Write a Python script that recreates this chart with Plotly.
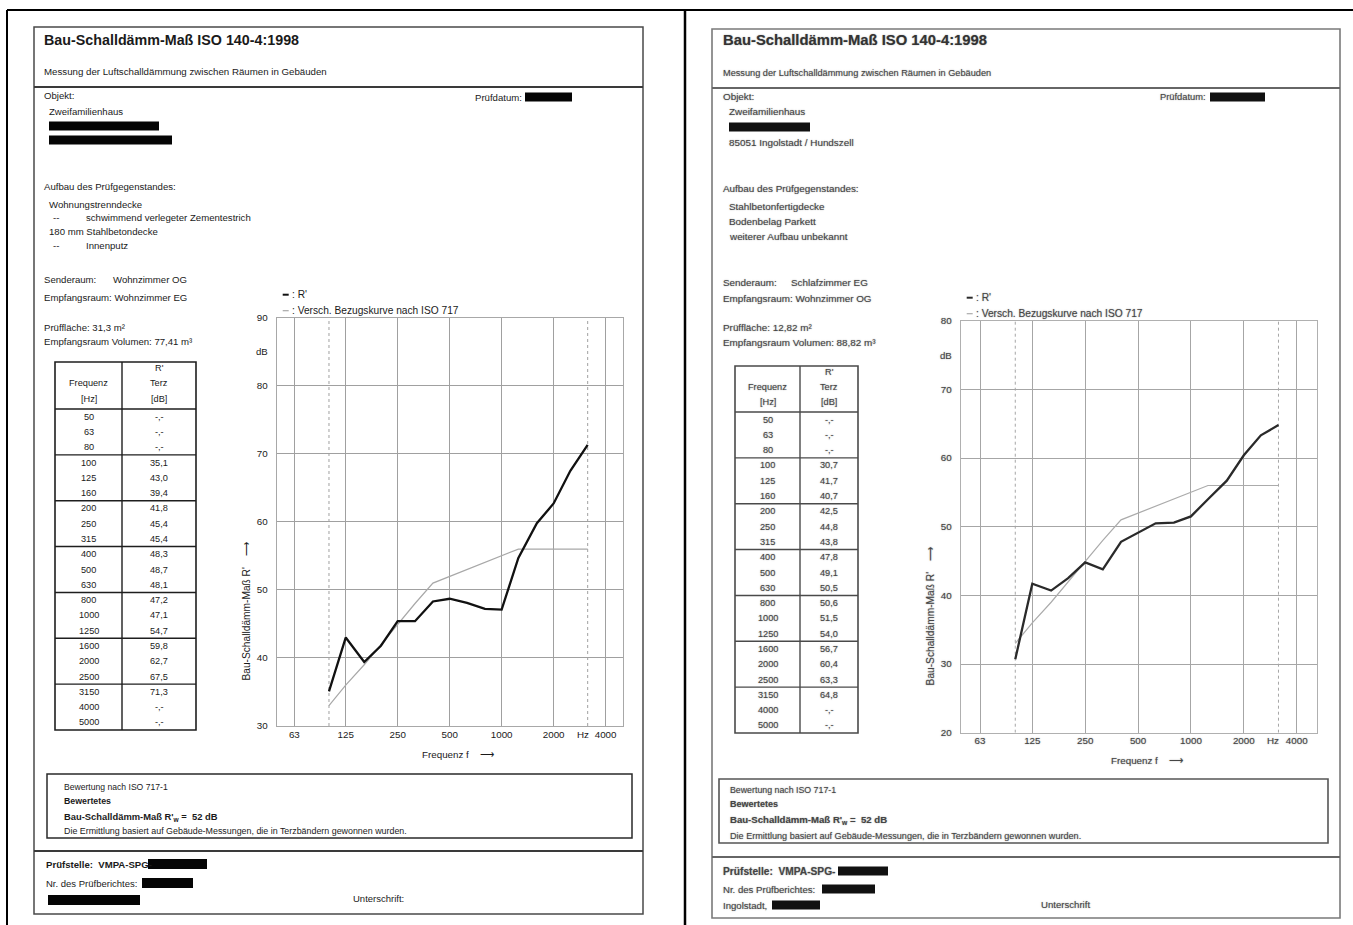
import math
import plotly.graph_objects as go

W, H = 1353, 925
FONT = "Liberation Sans, Arial, Helvetica, sans-serif"

# Third-octave bands listed in the result tables
FREQ_BANDS = [50, 63, 80, 100, 125, 160, 200, 250, 315, 400, 500, 630,
              800, 1000, 1250, 1600, 2000, 2500, 3150, 4000, 5000]

# Apparent sound reduction index R' per band (dB), None = not measured
R_WOHNZIMMER = [None, None, None, 35.1, 43.0, 39.4, 41.8, 45.4, 45.4, 48.3, 48.7,
                48.1, 47.2, 47.1, 54.7, 59.8, 62.7, 67.5, 71.3, None, None]
R_SCHLAFZIMMER = [None, None, None, 30.7, 41.7, 40.7, 42.5, 44.8, 43.8, 47.8, 49.1,
                  50.5, 50.6, 51.5, 54.0, 56.7, 60.4, 63.3, 64.8, None, None]

# Shifted ISO 717-1 reference curve (100 Hz ... 3150 Hz)
REF_FREQ = [100, 125, 160, 200, 250, 315, 400, 500, 630, 800,
            1000, 1250, 1600, 2000, 2500, 3150]
REF_SHIFTED = [33, 36, 39, 42, 45, 48, 51, 52, 53, 54, 55, 56, 56, 56, 56, 56]

RW_LEFT = 52
RW_RIGHT = 52

GRID_FREQ = [63, 125, 250, 500, 1000, 2000, 4000]
RANGE_MARK_FREQ = [100, 3150]

INK = "#1a1a1a"
SCAN = "#454545"
BLUR = "0px 0px 1.3px rgba(70,70,70,0.6)"

annotations = []
shapes = []


def px(x):
    return x / W


def py(y):
    return 1 - y / H


def label(x, y, s, size=9.6, bold=False, color=INK, anchor="left",
          blur=None, angle=0, xref="paper", yref="paper"):
    font = dict(family=FONT, size=size, color=color)
    if blur:
        font["shadow"] = blur
    if bold:
        s = f"<b>{s}</b>"
    annotations.append(dict(
        x=px(x) if xref == "paper" else x,
        y=py(y) if yref == "paper" else y,
        xref=xref, yref=yref, text=s, showarrow=False,
        xanchor=anchor, yanchor="middle", font=font, textangle=angle,
        borderpad=0))


def line(x0, y0, x1, y1, color, width):
    shapes.append(dict(type="line", xref="paper", yref="paper",
                       x0=px(x0), y0=py(y0), x1=px(x1), y1=py(y1),
                       line=dict(color=color, width=width), layer="above"))


def box(x0, y0, x1, y1, color, width):
    shapes.append(dict(type="rect", xref="paper", yref="paper",
                       x0=px(x0), y0=py(y0), x1=px(x1), y1=py(y1),
                       line=dict(color=color, width=width), layer="above"))


def redact(x0, x1, yc, h=9, color="#050505"):
    shapes.append(dict(type="rect", xref="paper", yref="paper",
                       x0=px(x0), y0=py(yc - h / 2), x1=px(x1), y1=py(yc + h / 2),
                       line=dict(width=0), fillcolor=color, layer="above"))


def fmt(v):
    return "-,-" if v is None else f"{v:.1f}".replace(".", ",")


def table(x0, xm, x1, ytop, yhead, ybot, values, color, lcolor, size, blur=None):
    box(x0, ytop, x1, ybot, lcolor, 1.6)
    line(xm, ytop, xm, ybot, lcolor, 1.4)
    line(x0, yhead, x1, yhead, lcolor, 1.6)
    cf = (x0 + xm) / 2
    cv = (xm + x1) / 2
    hh = yhead - ytop
    label(cv, ytop + hh * 0.12, "R'", size, color=color, anchor="center", blur=blur)
    label(cf, ytop + hh * 0.45, "Frequenz", size, color=color, anchor="center", blur=blur)
    label(cv, ytop + hh * 0.45, "Terz", size, color=color, anchor="center", blur=blur)
    label(cf, ytop + hh * 0.78, "[Hz]", size, color=color, anchor="center", blur=blur)
    label(cv, ytop + hh * 0.78, "[dB]", size, color=color, anchor="center", blur=blur)
    rh = (ybot - yhead) / len(FREQ_BANDS)
    for i, (f, v) in enumerate(zip(FREQ_BANDS, values)):
        yc = yhead + rh * (i + 0.5)
        label(cf, yc, str(f), size, color=color, anchor="center", blur=blur)
        label(cv, yc, fmt(v), size, color=color, anchor="center", blur=blur)
        if i % 3 == 2 and i < len(FREQ_BANDS) - 1:
            line(x0, yhead + rh * (i + 1), x1, yhead + rh * (i + 1), lcolor, 1.4)


fig = go.Figure()


def chart(n, left, right, top, bottom, f_range, y_range, r_values,
          r_color, ref_color, grid_color, frame_color, txt_color, blur, db_level):
    xa = "x" if n == 1 else f"x{n}"
    ya = "y" if n == 1 else f"y{n}"
    for f in RANGE_MARK_FREQ:
        fig.add_trace(go.Scatter(x=[f, f], y=list(y_range), mode="lines",
                                 line=dict(color=grid_color, width=1, dash="dot"),
                                 xaxis=xa, yaxis=ya, showlegend=False, hoverinfo="skip"))
    fig.add_trace(go.Scatter(x=REF_FREQ, y=REF_SHIFTED, mode="lines",
                             line=dict(color=ref_color, width=1.2),
                             xaxis=xa, yaxis=ya, showlegend=False,
                             name="Versch. Bezugskurve nach ISO 717"))
    fig.add_trace(go.Scatter(x=FREQ_BANDS, y=r_values, mode="lines",
                             line=dict(color=r_color, width=2.3),
                             xaxis=xa, yaxis=ya, showlegend=False, name="R'"))
    tickfont = dict(family=FONT, size=9.8, color=txt_color)
    if blur:
        tickfont["shadow"] = blur
    key = "" if n == 1 else str(n)
    fig.update_layout(**{
        f"xaxis{key}": dict(
            type="log", domain=[px(left), px(right)],
            range=[math.log10(f_range[0]), math.log10(f_range[1])],
            tickvals=GRID_FREQ, ticktext=[str(f) for f in GRID_FREQ],
            showgrid=True, gridcolor=grid_color, gridwidth=1,
            showline=True, mirror=True, linecolor=frame_color, linewidth=1,
            zeroline=False, ticks="", ticklabelstandoff=-1,
            tickfont=tickfont, anchor=ya, fixedrange=True, automargin=False),
        f"yaxis{key}": dict(
            domain=[py(bottom), py(top)], range=list(y_range),
            tickvals=list(range(y_range[0], y_range[1] + 1, 10)),
            showgrid=True, gridcolor=grid_color, gridwidth=1,
            showline=True, mirror=True, linecolor=frame_color, linewidth=1,
            zeroline=False, ticks="outside", ticklen=6, tickcolor="rgba(0,0,0,0)",
            tickfont=tickfont, anchor=xa, fixedrange=True, automargin=False),
    })
    # unit labels sitting on the axes
    label(left - 15, db_level, "dB", 9.6, color=txt_color, anchor="center",
          blur=blur, yref=ya)
    annotations.append(dict(x=math.log10(2950), y=py(bottom + 8), xref=xa, yref="paper",
                            text="Hz", showarrow=False, xanchor="center", yanchor="middle",
                            borderpad=0,
                            font=dict(family=FONT, size=9.8, color=txt_color,
                                      **({"shadow": blur} if blur else {}))))
    # legend lines above the plot
    legend_x = left + 6
    line(legend_x, top - 23, legend_x + 6, top - 23, r_color, 2)
    label(legend_x + 8, top - 23, ": R'", 10.2, color=txt_color, blur=blur)
    line(legend_x, top - 7, legend_x + 6, top - 7, ref_color, 1.2)
    label(legend_x + 8, top - 7, ": Versch. Bezugskurve nach ISO 717", 10.2,
          color=txt_color, blur=blur)
    # axis titles
    label(left - 30, (top + bottom) / 2 + 89, "Bau-Schalldämm-Maß R'    ⟶", 10.2,
          color=txt_color, anchor="center", blur=blur, angle=-90)
    label((left + right) / 2 + 8, bottom + 28, "Frequenz f    ⟶", 9.8,
          color=txt_color, anchor="center", blur=blur)


# ---------------- outer frame ----------------
line(7, 10, W, 10, "#000", 2)
line(7, 10, 7, H, "#000", 2)
line(685, 10, 685, H, "#000", 2.5)

# ---------------- left report ----------------
box(34, 27, 643, 914, "#4a4a4a", 1.5)
line(34, 87, 643, 87, "#3a3a3a", 2)
line(34, 851, 643, 851, "#3a3a3a", 2)

label(43, 40, "Bau-Schalldämm-Maß ISO 140-4:1998", 14.3, bold=True)
label(43, 72, "Messung der Luftschalldämmung zwischen Räumen in Gebäuden", 9.7)
label(43, 95, "Objekt:")
label(474, 97, "Prüfdatum:")
redact(525, 572, 97)
label(48, 112, "Zweifamilienhaus")
redact(49, 159, 126)
redact(49, 172, 140)
label(43, 187, "Aufbau des Prüfgegenstandes:")
label(48, 205, "Wohnungstrenndecke")
label(52, 217, "--")
label(85, 217, "schwimmend verlegeter Zementestrich")
label(48, 231, "180 mm Stahlbetondecke")
label(52, 246, "--")
label(85, 246, "Innenputz")
label(43, 279, "Senderaum:")
label(112, 279, "Wohnzimmer OG")
label(43, 297, "Empfangsraum: Wohnzimmer EG")
label(43, 328, "Prüffläche: 31,3 m²")
label(43, 341, "Empfangsraum Volumen: 77,41 m³")

table(55, 122, 196, 362, 409, 730, R_WOHNZIMMER, INK, "#1e1e1e", 9.2)

chart(1, 276.7, 622.7, 317.7, 726, (49.8, 5025), (30, 90), R_WOHNZIMMER,
      "#111111", "#a8a8a8", "#a0a0a0", "#a8a8a8", INK, None, 85)

box(47, 774, 632, 838, "#2a2a2a", 1.5)
label(63, 787, "Bewertung nach ISO 717-1", 8.6)
label(63, 801, "Bewertetes", 8.8, bold=True)
label(63, 817, f"Bau-Schalldämm-Maß R'<sub>w</sub> =  {RW_LEFT} dB", 9.4, bold=True)
label(63, 831, "Die Ermittlung basiert auf Gebäude-Messungen, die in Terzbändern gewonnen wurden.", 8.9)
label(45, 864, "Prüfstelle:  VMPA-SPG-", 9.6, bold=True)
redact(148, 207, 864, 10)
label(45, 883, "Nr. des Prüfberichtes:", 9.5)
redact(142, 193, 883, 10)
redact(48, 140, 900, 10)
label(352, 898, "Unterschrift:", 9.5)

# ---------------- right report ----------------
RL = "#7a7a7a"
box(712, 29, 1340, 918, RL, 1.6)
line(712, 88, 1340, 88, "#666", 2)
line(712, 857, 1340, 857, "#666", 2)

label(722, 40, "Bau-Schalldämm-Maß ISO 140-4:1998", 14.8, bold=True, color="#333", blur=BLUR)
label(722, 73, "Messung der Luftschalldämmung zwischen Räumen in Gebäuden", 9.2, color=SCAN, blur=BLUR)
label(722, 96, "Objekt:", 9.9, color=SCAN, blur=BLUR)
label(1159, 97, "Prüfdatum:", 9.3, color=SCAN, blur=BLUR)
redact(1210, 1265, 97, 9, "#111")
label(728, 112, "Zweifamilienhaus", 9.9, color=SCAN, blur=BLUR)
redact(729, 810, 127, 9, "#111")
label(728, 142, "85051 Ingolstadt / Hundszell", 9.9, color=SCAN, blur=BLUR)
label(722, 188, "Aufbau des Prüfgegenstandes:", 9.9, color=SCAN, blur=BLUR)
label(728, 207, "Stahlbetonfertigdecke", 9.9, color=SCAN, blur=BLUR)
label(728, 221, "Bodenbelag Parkett", 9.9, color=SCAN, blur=BLUR)
label(728, 236, "weiterer Aufbau unbekannt", 9.9, color=SCAN, blur=BLUR)
label(722, 282, "Senderaum:", 9.9, color=SCAN, blur=BLUR)
label(790, 282, "Schlafzimmer EG", 9.9, color=SCAN, blur=BLUR)
label(722, 298, "Empfangsraum: Wohnzimmer OG", 9.9, color=SCAN, blur=BLUR)
label(722, 328, "Prüffläche: 12,82 m²", 9.9, color=SCAN, blur=BLUR)
label(722, 342, "Empfangsraum Volumen: 88,82 m³", 9.9, color=SCAN, blur=BLUR)

table(735, 800, 858, 366, 412, 733, R_SCHLAFZIMMER, SCAN, "#4a4a4a", 9.2, BLUR)

chart(2, 960.7, 1317, 320.7, 732.7, (48.9, 5220), (20, 80), R_SCHLAFZIMMER,
      "#2a2a2a", "#ababab", "#a6a6a6", "#b0b0b0", SCAN, BLUR, 75)

box(719, 779, 1328, 843, "#555", 1.6)
label(729, 790, "Bewertung nach ISO 717-1", 8.8, color=SCAN, blur=BLUR)
label(729, 804, "Bewertetes", 9.0, bold=True, color=SCAN, blur=BLUR)
label(729, 820, f"Bau-Schalldämm-Maß R'<sub>w</sub> =  {RW_RIGHT} dB", 9.6, bold=True, color=SCAN, blur=BLUR)
label(729, 836, "Die Ermittlung basiert auf Gebäude-Messungen, die in Terzbändern gewonnen wurden.", 9.1, color=SCAN, blur=BLUR)
label(722, 871, "Prüfstelle:  VMPA-SPG-", 10.2, bold=True, color=SCAN, blur=BLUR)
redact(838, 888, 871, 9, "#111")
label(722, 889, "Nr. des Prüfberichtes:", 9.6, color=SCAN, blur=BLUR)
redact(822, 875, 889, 9, "#111")
label(722, 905, "Ingolstadt,", 9.6, color=SCAN, blur=BLUR)
redact(772, 820, 905, 9, "#111")
label(1040, 904, "Unterschrift", 9.6, color=SCAN, blur=BLUR)

fig.update_layout(
    width=W, height=H, autosize=False,
    margin=dict(l=0, r=0, t=0, b=0, pad=0, autoexpand=False),
    paper_bgcolor="white", plot_bgcolor="white",
    showlegend=False,
    annotations=annotations, shapes=shapes,
    font=dict(family=FONT, color=INK),
)

fig.write_html("out.html", config={"displayModeBar": False, "staticPlot": True,
                                   "responsive": False})
